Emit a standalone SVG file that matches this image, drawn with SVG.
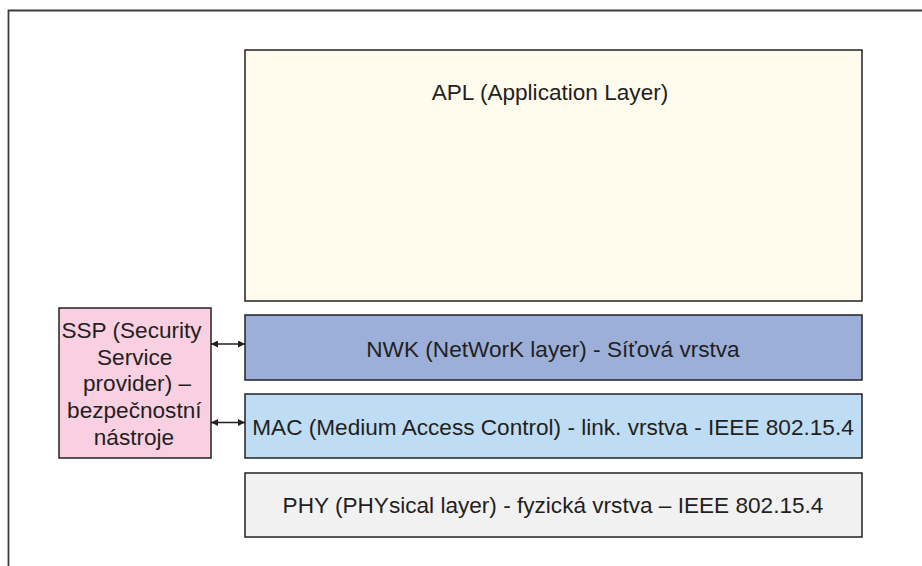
<svg xmlns="http://www.w3.org/2000/svg" width="922" height="566" viewBox="0 0 922 566">
  <style>
    .box { stroke: #222; stroke-width: 1.5; }
    .lbl { font-family: "Liberation Sans", Arial, sans-serif; font-size: 22.6px; fill: #231f20; text-anchor: middle; }
    .ssp { font-family: "Liberation Sans", Arial, sans-serif; font-size: 22.6px; fill: #231f20; text-anchor: middle; }
    .link { stroke: #231f20; stroke-width: 1.4; fill: none; marker-start: url(#head); marker-end: url(#head); }
  </style>
  <defs>
    <marker id="head" viewBox="0 0 10 10" refX="10" refY="5" markerWidth="7" markerHeight="7" markerUnits="userSpaceOnUse" orient="auto-start-reverse">
      <path d="M0,0 L10,5 L0,10 z" fill="#231f20"/>
    </marker>
  </defs>
  <rect width="922" height="566" fill="#ffffff"/>
  <!-- frame -->
  <path d="M8.5,566 V10.5 H922" fill="none" stroke="#3c3c3c" stroke-width="1.8"/>

  <g id="apl">
    <rect class="box" x="245" y="50" width="617" height="251" fill="#fffcee"/>
    <text class="lbl" x="550" y="100">APL (Application Layer)</text>
  </g>
  <g id="nwk">
    <rect class="box" x="245" y="315" width="617" height="65" fill="#9bafd9"/>
    <text class="lbl" x="553" y="357">NWK (NetWorK layer) - Síťová vrstva</text>
  </g>
  <g id="mac">
    <rect class="box" x="245" y="394" width="617" height="64" fill="#bedcf3"/>
    <text class="lbl" x="553" y="435">MAC (Medium Access Control) - link. vrstva - IEEE 802.15.4</text>
  </g>
  <g id="phy">
    <rect class="box" x="245" y="473" width="617" height="64" fill="#f1f1f1"/>
    <text class="lbl" x="553" y="513">PHY (PHYsical layer) - fyzická vrstva – IEEE 802.15.4</text>
  </g>
  <g id="ssp">
    <rect class="box" x="59" y="308" width="152" height="150" fill="#f9cfe2"/>
    <text class="ssp" x="131.5" y="338">SSP (Security</text>
    <text class="ssp" x="134.7" y="365">Service</text>
    <text class="ssp" x="137" y="391">provider) –</text>
    <text class="ssp" x="134.3" y="418">bezpečnostní</text>
    <text class="ssp" x="134" y="445">nástroje</text>
  </g>
  <g id="connectors">
    <line class="link" x1="211" y1="344" x2="245" y2="344"/>
    <line class="link" x1="211" y1="422.5" x2="245" y2="422.5"/>
  </g>
</svg>
